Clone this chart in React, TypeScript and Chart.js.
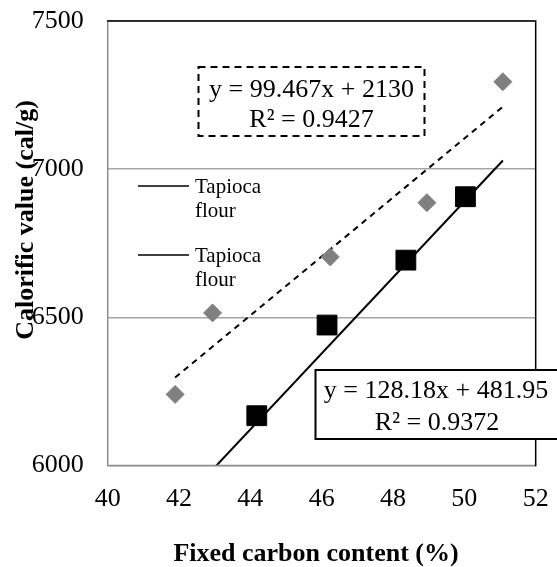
import React, { useEffect, useRef } from "react";
import { Chart, registerables } from "chart.js";

Chart.register(...registerables);

// Series A (grey diamonds, dashed trendline)
const fixedCarbonA = [41.89, 42.94, 46.24, 48.95, 51.08];
const calorificA = [6240, 6515, 6704, 6887, 7295];
// Series B (black squares, solid trendline)
const fixedCarbonB = [44.18, 46.15, 48.36, 50.03];
const calorificB = [6168, 6474, 6693, 6907];

// Trendline coefficients [slope, intercept]
const trendA = [99.467, 2130];
const trendB = [128.18, 481.95];

const equationA = ["y = 99.467x + 2130", "R² = 0.9427"];
const equationB = ["y = 128.18x + 481.95", "R² = 0.9372"];
const legendLabels = ["Tapioca flour", "Tapioca flour"];

const xTicks = [40, 42, 44, 46, 48, 50, 52];
const yTicks = [6000, 6500, 7000, 7500];

const xTitle = "Fixed carbon content (%)";
const yTitle = "Calorific value (cal/g)";

const SERIF = "Liberation Serif";
Chart.defaults.font.family = SERIF;

function trendPoints(coef: number[], xs: number[]) {
  const x0 = Math.min(...xs);
  const x1 = Math.max(...xs);
  return [x0, x1].map((x) => ({ x, y: coef[0] * x + coef[1] }));
}

function zeroPad(s: any) {
  s.paddingTop = 0;
  s.paddingBottom = 0;
  s.paddingLeft = 0;
  s.paddingRight = 0;
}

const decorPlugin = {
  id: "decor",
  afterDraw(chart: any) {
    const { ctx, chartArea } = chart;
    const { left, right, top, bottom } = chartArea;
    ctx.save();
    // axes (grey) and frame (black)
    ctx.lineWidth = 1.5;
    ctx.strokeStyle = "#8c8c8c";
    ctx.beginPath();
    ctx.moveTo(left, top);
    ctx.lineTo(left, bottom);
    ctx.lineTo(right, bottom);
    ctx.stroke();
    ctx.strokeStyle = "#000";
    ctx.beginPath();
    ctx.moveTo(left - 0.75, top);
    ctx.lineTo(right, top);
    ctx.lineTo(right, bottom + 0.75);
    ctx.stroke();

    // axis titles
    ctx.fillStyle = "#000";
    ctx.font = `bold 26px ${SERIF}`;
    ctx.textAlign = "center";
    ctx.textBaseline = "alphabetic";
    ctx.fillText(xTitle, 316, 561);
    ctx.save();
    ctx.translate(33, 220);
    ctx.rotate(-Math.PI / 2);
    ctx.fillText(yTitle, 0, 0);
    ctx.restore();

    // legend
    ctx.font = `21px ${SERIF}`;
    ctx.textAlign = "left";
    ctx.lineWidth = 1.6;
    const legendY = [186, 255];
    legendLabels.forEach((lab, i) => {
      const y = legendY[i];
      ctx.beginPath();
      ctx.moveTo(138, y);
      ctx.lineTo(189, y);
      ctx.stroke();
      const words = lab.split(" ");
      ctx.fillText(words[0], 195, y + 7);
      ctx.fillText(words.slice(1).join(" "), 195, y + 31);
    });

    // equation box A (dashed)
    ctx.font = `26px ${SERIF}`;
    ctx.textAlign = "center";
    ctx.fillStyle = "#fff";
    ctx.fillRect(198.5, 67, 226, 69);
    ctx.setLineDash([7, 5]);
    ctx.lineWidth = 2;
    ctx.strokeRect(198.5, 67, 226, 69);
    ctx.setLineDash([]);
    ctx.fillStyle = "#000";
    ctx.fillText(equationA[0], 311.5, 97);
    ctx.fillText(equationA[1], 311.5, 127);

    // equation box B (solid)
    ctx.fillStyle = "#fff";
    ctx.fillRect(315.5, 370, 260, 69);
    ctx.strokeRect(315.5, 370, 260, 69);
    ctx.fillStyle = "#000";
    ctx.fillText(equationB[0], 436, 398);
    ctx.fillText(equationB[1], 437, 429.5);
    ctx.restore();
  },
};

export default function App() {
  const ref = useRef<HTMLCanvasElement | null>(null);
  useEffect(() => {
    if (!ref.current) return;
    const chart = new Chart(ref.current, {
      type: "scatter",
      data: {
        datasets: [
          {
            label: "A",
            data: fixedCarbonA.map((x, i) => ({ x, y: calorificA[i] })),
            pointStyle: "rectRot",
            pointRadius: 9,
            pointBackgroundColor: "#808080",
            pointBorderColor: "#808080",
            pointBorderWidth: 1,
          },
          {
            label: "B",
            data: fixedCarbonB.map((x, i) => ({ x, y: calorificB[i] })),
            pointStyle: "rect",
            pointRadius: 14,
            pointBackgroundColor: "#000",
            pointBorderColor: "#000",
            pointBorderWidth: 1,
          },
          {
            label: "trendA",
            data: trendPoints(trendA, fixedCarbonA),
            showLine: true,
            pointRadius: 0,
            borderColor: "#000",
            borderWidth: 2,
            borderDash: [6, 5],
          },
          {
            label: "trendB",
            data: trendPoints(trendB, fixedCarbonA),
            showLine: true,
            pointRadius: 0,
            borderColor: "#000",
            borderWidth: 2,
          },
        ],
      },
      options: {
        animation: false,
        responsive: false,
        devicePixelRatio: 1,
        font: { family: SERIF },
        layout: { padding: { left: 0, right: 21.3, top: 21, bottom: 0 } },
        plugins: { legend: { display: false }, tooltip: { enabled: false } },
        scales: {
          x: {
            type: "linear",
            min: xTicks[0],
            max: xTicks[xTicks.length - 1],
            afterBuildTicks: (s: any) => {
              s.ticks = xTicks.map((v) => ({ value: v }));
            },
            afterFit: (s: any) => {
              s.height = 101.5;
              zeroPad(s);
            },
            grid: { display: false, drawTicks: false },
            border: { display: false },
            ticks: {
              padding: 18,
              color: "#000",
              font: { family: SERIF, size: 26, weight: "normal" },
              callback: (v: any) => String(v),
            },
          },
          y: {
            type: "linear",
            min: yTicks[0],
            max: yTicks[yTicks.length - 1],
            afterBuildTicks: (s: any) => {
              s.ticks = yTicks.map((v) => ({ value: v }));
            },
            afterFit: (s: any) => {
              s.width = 107.7;
              zeroPad(s);
            },
            grid: { color: "#a6a6a6", lineWidth: 1.5, drawTicks: false },
            border: { display: false },
            ticks: {
              padding: 24,
              color: "#000",
              font: { family: SERIF, size: 26, weight: "normal" },
              callback: (v: any) => String(v),
            },
          },
        },
      },
      plugins: [decorPlugin],
    });
    return () => chart.destroy();
  }, []);
  return (
    <div style={{ position: "absolute", left: 0, top: 0, width: 557, height: 567, background: "#fff" }}>
      <canvas ref={ref} width={557} height={567} style={{ width: 557, height: 567 }} />
    </div>
  );
}
